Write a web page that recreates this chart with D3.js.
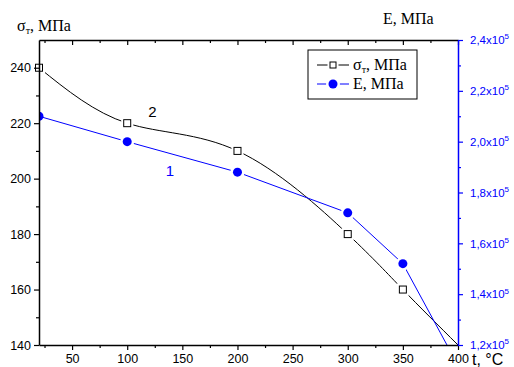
<!DOCTYPE html>
<html>
<head>
<meta charset="utf-8">
<script src="https://cdn.jsdelivr.net/npm/d3@7"></script>
<style>
  html, body { margin: 0; padding: 0; background: #fff; }
  svg { display: block; }
</style>
</head>
<body>
<svg id="chart" width="514" height="367"></svg>
<script>
// Temperature, °C
const temps = [20, 100, 200, 300, 350, 400];
// Yield strength σт, MPa (curve 2)
const sigmaValues = [240, 220, 210, 180, 160, 140];
// Elastic modulus E, MPa (curve 1)
const modulusValues = [2.10e5, 2.00e5, 1.88e5, 1.72e5, 1.52e5, 1.12e5];

const xTicks = [50, 100, 150, 200, 250, 300, 350, 400];
const xMinorTicks = [25, 75, 125, 175, 225, 275, 325, 375];
const yLeftTicks = [140, 160, 180, 200, 220, 240];
const yLeftMinor = [150, 170, 190, 210, 230];
const yRightTicks = [1.2e5, 1.4e5, 1.6e5, 1.8e5, 2.0e5, 2.2e5, 2.4e5];
const yRightMinor = [1.3e5, 1.5e5, 1.7e5, 1.9e5, 2.1e5, 2.3e5];

const W = 514, H = 367;
const m = { left: 39, right: 56, top: 40, bottom: 22 };
const iw = W - m.left - m.right, ih = H - m.top - m.bottom;

const BLUE = "#0000ff";
const SANS = "Liberation Sans, Arial, sans-serif";
const SERIF = "Liberation Serif, Times New Roman, serif";

const svg = d3.select("#chart");
const g = svg.append("g").attr("transform", `translate(${m.left},${m.top})`);

const x = d3.scaleLinear().domain([20, 400]).range([0, iw]);
const yL = d3.scaleLinear().domain([140, 250]).range([ih, 0]);
const yR = d3.scaleLinear().domain([1.2e5, 2.4e5]).range([ih, 0]);

g.append("clipPath").attr("id", "plot-clip")
  .append("rect").attr("x", 0).attr("y", 0).attr("width", iw).attr("height", ih);

const plot = g.append("g").attr("clip-path", "url(#plot-clip)");

// Curve 2: yield strength, smooth spline
const sigmaPts = temps.map((t, i) => [t, sigmaValues[i]]);
plot.append("path")
  .datum(sigmaPts)
  .attr("fill", "none").attr("stroke", "#000").attr("stroke-width", 1)
  .attr("d", d3.line().x(d => x(d[0])).y(d => yL(d[1])).curve(d3.curveNatural));

// Curve 1: elastic modulus, straight segments
const ePts = temps.map((t, i) => [t, modulusValues[i]]);
plot.append("path")
  .datum(ePts)
  .attr("fill", "none").attr("stroke", BLUE).attr("stroke-width", 1)
  .attr("d", d3.line().x(d => x(d[0])).y(d => yR(d[1])));

// Markers with a white halo so the line breaks around them
const ePtsVis = ePts.filter(d => d[1] >= 1.2e5);
plot.selectAll("circle.halo").data(ePtsVis.slice(1)).enter().append("circle")
  .attr("cx", d => x(d[0])).attr("cy", d => yR(d[1])).attr("r", 7).attr("fill", "#fff");
plot.selectAll("circle.e").data(ePtsVis).enter().append("circle")
  .attr("cx", d => x(d[0])).attr("cy", d => yR(d[1])).attr("r", 4.5).attr("fill", BLUE);

const sq = 7;
g.selectAll("rect.halo").data(sigmaPts.filter(d => d[0] < 400)).enter().append("rect")
  .attr("x", d => x(d[0]) - sq / 2 - 2.5).attr("y", d => yL(d[1]) - sq / 2 - 2.5)
  .attr("width", sq + 5).attr("height", sq + 5).attr("fill", "#fff");
g.selectAll("rect.s").data(sigmaPts.filter(d => d[0] < 400)).enter().append("rect")
  .attr("x", d => x(d[0]) - sq / 2).attr("y", d => yL(d[1]) - sq / 2)
  .attr("width", sq).attr("height", sq)
  .attr("fill", "#fff").attr("stroke", "#000").attr("stroke-width", 1);

// Axes
function styleAxis(sel, color, fontSize) {
  sel.select(".domain").attr("stroke", color).attr("stroke-width", 1.5);
  sel.selectAll(".tick line").attr("stroke", color).attr("stroke-width", 1.2);
  sel.selectAll(".tick text").attr("fill", color).attr("font-family", SANS).attr("font-size", fontSize);
}

// Bottom
const xb = g.append("g").attr("transform", `translate(0,${ih})`)
  .call(d3.axisBottom(x).tickValues(xTicks).tickSize(5).tickSizeOuter(0).tickPadding(4));
styleAxis(xb, "#000", 12.5);
g.append("g").attr("transform", `translate(0,${ih})`)
  .call(d3.axisBottom(x).tickValues(xMinorTicks).tickSize(3).tickFormat("").tickSizeOuter(0))
  .call(s => { s.select(".domain").remove(); s.selectAll("line").attr("stroke", "#000").attr("stroke-width", 1.2); });

// Top (inward ticks)
const xt = g.append("g")
  .call(d3.axisBottom(x).tickValues(xTicks).tickSize(5).tickFormat("").tickSizeOuter(0));
styleAxis(xt, "#000", 12);
g.append("g")
  .call(d3.axisBottom(x).tickValues(xMinorTicks).tickSize(3).tickFormat("").tickSizeOuter(0))
  .call(s => { s.select(".domain").remove(); s.selectAll("line").attr("stroke", "#000").attr("stroke-width", 1.2); });

// Left
const yl = g.append("g")
  .call(d3.axisLeft(yL).tickValues(yLeftTicks).tickSize(5).tickSizeOuter(0).tickPadding(3));
styleAxis(yl, "#000", 12.5);
g.append("g")
  .call(d3.axisLeft(yL).tickValues(yLeftMinor).tickSize(3).tickFormat("").tickSizeOuter(0))
  .call(s => { s.select(".domain").remove(); s.selectAll("line").attr("stroke", "#000").attr("stroke-width", 1.2); });

// Right (blue)
const yr = g.append("g").attr("transform", `translate(${iw},0)`)
  .call(d3.axisRight(yR).tickValues(yRightTicks).tickSize(5).tickSizeOuter(0).tickPadding(7)
    .tickFormat(() => ""));
styleAxis(yr, BLUE, 11.5);
yr.selectAll(".tick text").each(function (d) {
  const t = d3.select(this);
  const mant = (d / 1e5).toFixed(1).replace(".", ",");
  t.attr("dy", "0.32em");
  t.append("tspan").text(mant + "x10");
  t.append("tspan").text("5").attr("font-size", 8).attr("dy", "-0.6em");
});
g.append("g").attr("transform", `translate(${iw},0)`)
  .call(d3.axisRight(yR).tickValues(yRightMinor).tickSize(3).tickFormat("").tickSizeOuter(0))
  .call(s => { s.select(".domain").remove(); s.selectAll("line").attr("stroke", BLUE).attr("stroke-width", 1.2); });

// Axis titles
const lt = svg.append("text").attr("x", 17).attr("y", 31)
  .attr("font-family", SERIF).attr("font-size", 16).attr("fill", "#000");
lt.append("tspan").text("σ");
lt.append("tspan").text("т").attr("font-size", 10).attr("dy", 3);
lt.append("tspan").text(", МПа").attr("dy", -3);

svg.append("text").attr("x", 383).attr("y", 24)
  .attr("font-family", SERIF).attr("font-size", 16).attr("fill", "#000").text("E, МПа");

svg.append("text").attr("x", 472).attr("y", 365)
  .attr("font-family", SANS).attr("font-size", 16).attr("fill", "#000").text("t, °C");

// Curve labels
svg.append("text").attr("x", x(119) + m.left).attr("y", 117)
  .attr("font-family", SANS).attr("font-size", 15).attr("fill", "#000").text("2");
svg.append("text").attr("x", x(135) + m.left).attr("y", 176)
  .attr("font-family", SANS).attr("font-size", 15).attr("fill", BLUE).text("1");

// Legend
const lg = svg.append("g").attr("transform", "translate(308,50)");
lg.append("rect").attr("width", 109).attr("height", 49)
  .attr("fill", "#fff").attr("stroke", "#000").attr("stroke-width", 1);
// entry: yield strength
lg.append("line").attr("x1", 9).attr("x2", 41).attr("y1", 15).attr("y2", 15).attr("stroke", "#000");
lg.append("rect").attr("x", 25 - 5.5).attr("y", 15 - 5.5).attr("width", 11).attr("height", 11).attr("fill", "#fff");
lg.append("rect").attr("x", 25 - 3).attr("y", 15 - 3).attr("width", 6).attr("height", 6)
  .attr("fill", "#fff").attr("stroke", "#000");
const l1 = lg.append("text").attr("x", 45).attr("y", 20)
  .attr("font-family", SERIF).attr("font-size", 16).attr("fill", "#000");
l1.append("tspan").text("σ");
l1.append("tspan").text("т").attr("font-size", 10).attr("dy", 3);
l1.append("tspan").text(", МПа").attr("dy", -3);
// entry: modulus
lg.append("line").attr("x1", 9).attr("x2", 41).attr("y1", 34).attr("y2", 34).attr("stroke", BLUE);
lg.append("circle").attr("cx", 25).attr("cy", 34).attr("r", 7).attr("fill", "#fff");
lg.append("circle").attr("cx", 25).attr("cy", 34).attr("r", 4.5).attr("fill", BLUE);
lg.append("text").attr("x", 45).attr("y", 39)
  .attr("font-family", SERIF).attr("font-size", 16).attr("fill", "#000").text("E, МПа");
</script>
</body>
</html>
